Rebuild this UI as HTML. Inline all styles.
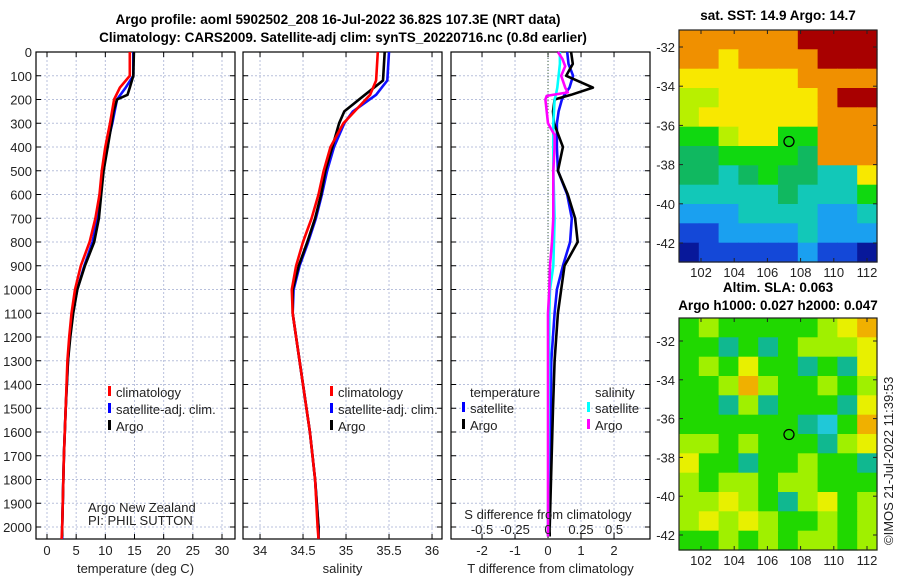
<!DOCTYPE html>
<html><head><meta charset="utf-8">
<style>
body{margin:0;background:#fff;}
svg{display:block;font-family:"Liberation Sans","DejaVu Sans",sans-serif;}
.t{font-size:13px;fill:#222;}
.b{font-weight:bold;font-size:13.5px;fill:#000;}
.g{stroke:#b8c0dc;stroke-width:1;stroke-dasharray:2,2;}
</style></head>
<body>
<svg id="s" width="900" height="580">
<text class="b" x="338" y="24" text-anchor="middle">Argo profile: aoml 5902502_208 16-Jul-2022 36.82S 107.3E (NRT data)</text>
<text class="b" x="343" y="42" text-anchor="middle">Climatology: CARS2009. Satellite-adj clim: synTS_20220716.nc (0.8d earlier)</text>
<text class="b" x="778" y="20" text-anchor="middle">sat. SST: 14.9 Argo: 14.7</text>
<text class="b" x="778" y="292" text-anchor="middle">Altim. SLA: 0.063</text>
<text class="b" x="778" y="310" text-anchor="middle">Argo h1000: 0.027 h2000: 0.047</text>
<text class="t" transform="translate(893,545) rotate(-90)">©IMOS 21-Jul-2022 11:39:53</text>
<g id="plots"></g>
</svg>
<script>
// ---- profile data ----
const tDepth=[0,100,150,200,300,400,500,600,700,800,900,1000,1100,1200,1300,1500,1700,2000,2050];
const tClim=[14.2,14.2,12.5,11.5,10.8,10.0,9.4,9.0,8.3,7.3,5.8,4.8,4.2,3.8,3.5,3.2,2.9,2.6,2.5];
const tSat=[14.8,14.8,13.5,12.0,11.2,10.2,9.6,9.2,8.6,7.8,6.4,5.2,4.4,3.9,3.6,3.2,2.9,2.6,2.6];
const tArgoDepth=[0,100,150,180,200,250,300,400,500,600,700,800,900,1000,1100,1200,1300,1500,1700,2000,2040];
const tArgo=[14.9,14.8,14.2,13.8,12.0,11.4,11.1,10.4,9.7,9.3,8.9,8.1,6.5,5.2,4.5,4.0,3.6,3.2,2.9,2.6,2.6];
const sDepth=[0,120,180,250,300,400,500,600,700,800,900,1000,1100,1200,1400,1600,1800,2000,2050];
const sClim=[35.37,35.35,35.28,35.10,34.97,34.82,34.74,34.68,34.60,34.50,34.42,34.37,34.38,34.42,34.50,34.58,34.64,34.67,34.68];
const sSat=[35.50,35.48,35.35,35.08,34.98,34.86,34.78,34.72,34.65,34.56,34.46,34.39,34.38,34.42,34.50,34.58,34.64,34.68,34.68];
const sArgo=[35.45,35.43,35.22,34.98,34.92,34.84,34.76,34.71,34.64,34.55,34.45,34.38,34.38,34.42,34.50,34.58,34.64,34.68,34.68];
const dDepth=[0,50,100,150,180,200,250,300,400,500,600,700,800,900,1000,1100,1300,1500,2000,2040];
const dTsat=[0.58,0.62,0.76,0.65,0.5,0.42,0.32,0.27,0.27,0.30,0.58,0.72,0.67,0.45,0.27,0.2,0.1,0.08,0.05,0.05];
const dTargo=[0.70,0.75,0.55,1.36,0.70,0.20,0.15,0.18,0.45,0.30,0.60,0.82,0.90,0.50,0.40,0.30,0.2,0.15,0.05,0.05];
const dSsat=[0.09,0.09,0.08,0.07,0.06,0.05,0.045,0.04,0.04,0.04,0.045,0.05,0.045,0.04,0.015,0.01,0.008,0.005,0.0,0.0];
const dSargoDepth=[0,30,60,100,150,170,185,200,300,350,400,500,600,700,800,900,1000,1100,1500,2040];
const dSargo=[0.075,0.11,0.13,0.10,0.13,0.15,-0.01,-0.02,0.0,0.05,0.05,0.04,0.04,0.04,0.03,0.015,0.01,0.0,0.0,0.0];
const depthTicks=[0,100,200,300,400,500,600,700,800,900,1000,1100,1200,1300,1400,1500,1600,1700,1800,1900,2000];
const tTicks=[0,5,10,15,20,25,30];
const sTicks=[34,34.5,35,35.5,36];
const dTicks=[-2,-1,0,1,2];
const dsTickLabels=["-0.5","-0.25","0","0.25","0.5"];
const dsTickVals=[-0.5,-0.25,0,0.25,0.5];
// ---- map data (colour index 0..9) ----
const sstGrid=[
[8,8,8,8,8,8,9,9,9,9],[8,8,7,8,8,8,8,9,9,9],[7,7,7,7,7,7,8,8,8,8],[6,6,7,7,7,7,7,8,9,9],
[6,7,7,7,7,7,7,8,8,8],[5,5,6,7,7,5,5,8,8,8],[4,4,5,5,5,5,4,8,8,8],[4,4,3,4,5,4,4,3,3,7],
[3,3,3,3,3,4,3,3,3,5],[2,2,2,3,3,3,3,2,2,3],[1,1,2,2,2,2,3,2,2,2],[0,1,1,1,1,1,2,1,1,0]];
const slaGrid=[
[5,6,5,5,5,5,5,6,7,8],[5,5,4,5,4,5,6,6,6,7],[5,6,5,7,5,5,4,5,4,7],[5,5,6,8,6,5,5,6,5,6],
[5,5,4,6,4,5,5,5,4,7],[5,5,5,5,5,5,4,3,5,8],[6,6,5,6,5,5,5,4,6,7],[7,5,5,4,5,5,6,5,5,4],
[6,5,6,6,5,6,6,5,5,5],[6,6,7,6,5,4,6,7,5,6],[6,7,6,7,6,5,5,6,5,6],[5,5,6,5,6,5,6,6,5,6]];
const latTicks=[-32,-34,-36,-38,-40,-42];
const lonTicks=[102,104,106,108,110,112];
const argoLon=107.3, argoLat=-36.82;

const NS="http://www.w3.org/2000/svg";
const G=document.getElementById('plots');
function mk(tag,attrs,parent){const e=document.createElementNS(NS,tag);for(const k in attrs)e.setAttribute(k,attrs[k]);(parent||G).appendChild(e);return e;}
function txt(x,y,s,anchor,parent,size){const e=mk('text',{x:x,y:y,'text-anchor':anchor||'start',class:'t'},parent);if(size)e.setAttribute('font-size',size);e.textContent=s;return e;}
const yTop=52, yPer=0.2375, yBot=539;
const yS=d=>yTop+d*yPer;
function panel(name,x0,x1,vmin,vmax,ticks,labels,xlabel,yLabels){
  const g=mk('g',{});
  
  
  const xs=v=>x0+(v-vmin)/(vmax-vmin)*(x1-x0);
  ticks.forEach(v=>{mk('line',{x1:xs(v),x2:xs(v),y1:yTop,y2:yBot,class:'g'},g);});
  depthTicks.forEach(d=>{mk('line',{x1:x0,x2:x1,y1:yS(d),y2:yS(d),class:'g'},g);
    mk('line',{x1:x0,x2:x0+5,y1:yS(d),y2:yS(d),stroke:'#000'},g);
    mk('line',{x1:x1-5,x2:x1,y1:yS(d),y2:yS(d),stroke:'#000'},g);
    if(yLabels){const l=txt(x0-4,yS(d)+5,String(d),'end',g);}});
  ticks.forEach((v,i)=>{mk('line',{x1:xs(v),x2:xs(v),y1:yBot,y2:yBot-5,stroke:'#000'},g);mk('line',{x1:xs(v),x2:xs(v),y1:yTop,y2:yTop+5,stroke:'#000'},g);
    const l=txt(xs(v),yBot+16,labels[i],'middle',g);});
  mk('rect',{x:x0,y:yTop,width:x1-x0,height:yBot-yTop,fill:'none',stroke:'#000','stroke-width':1.2},g);
  const xl=txt((x0+x1)/2,yBot+34,xlabel,'middle',g);
  return {g,xs};
}
function line(p,depths,vals,color,name,scale){
  const pts=depths.map((d,i)=>p.xs(vals[i]*(scale||1)).toFixed(1)+','+yS(d).toFixed(1)).join(' ');
  const e=mk('polyline',{points:pts,fill:'none',stroke:color,'stroke-width':2.6,'stroke-linejoin':'round'},p.g);
  
  
}
function legend(g,x,y,items){items.forEach((it,i)=>{mk('rect',{x:x,y:y+i*17-11,width:3,height:10,fill:it[1]},g);const t=txt(x+8,y+i*17,it[0],'start',g);});}

const P1=panel('temperature-panel',36,235,-1.886,32.23,tTicks,tTicks.map(String),'temperature (deg C)',true);
line(P1,tDepth,tSat,'#1010ff','temp-satellite-line');
line(P1,tArgoDepth,tArgo,'#000','temp-argo-line');
line(P1,tDepth,tClim,'#ff0000','temp-climatology-line');
legend(P1.g,108,397,[['climatology','#f00'],['satellite-adj. clim.','#00f'],['Argo','#000']]);
let a=txt(88,512,'Argo New Zealand','start',P1.g,11);
a=txt(88,525,'PI: PHIL SUTTON','start',P1.g,11);

const P2=panel('salinity-panel',243,442,33.802,36.116,sTicks,sTicks.map(String),'salinity',false);
line(P2,sDepth,sSat,'#1010ff','sal-satellite-line');
line(P2,sDepth,sArgo,'#000','sal-argo-line');
line(P2,sDepth,sClim,'#ff0000','sal-climatology-line');
legend(P2.g,330,397,[['climatology','#f00'],['satellite-adj. clim.','#00f'],['Argo','#000']]);

const P3=panel('difference-panel',451,650,-2.94,3.09,dTicks,dTicks.map(String),'T difference from climatology',false);
mk('line',{x1:P3.xs(0),x2:P3.xs(0),y1:yTop,y2:yBot,stroke:'#464',"stroke-dasharray":'1,2'},P3.g);
line(P3,dDepth,dTsat,'#1010ff','tdiff-satellite-line');
line(P3,dDepth,dTargo,'#000','tdiff-argo-line');
line(P3,dDepth,dSsat,'#00ffff','sdiff-satellite-line',4);
line(P3,dSargoDepth,dSargo,'#ff00ff','sdiff-argo-line',4);
a=txt(470,397,'temperature','start',P3.g);
a=txt(595,397,'salinity','start',P3.g);
legend(P3.g,462,413,[['satellite','#00f'],['Argo','#000']]);
legend(P3.g,587,413,[['satellite','#0ff'],['Argo','#f0f']]);
a=txt(548,519,'S difference from climatology','middle',P3.g);
dsTickVals.forEach((v,i)=>{const l=txt(P3.xs(v*4),534,dsTickLabels[i],'middle',P3.g);});

// ---- maps ----
const sstPal=['#08189a','#1448d8','#1aa0f0','#12c8b8','#10b860','#10d810','#b8f000','#f8e800','#f09000','#a80000'];
const slaPal=['#08189a','#1448d8','#18a8f0','#20c8d8','#10b890','#20d800','#a0f000','#e8f000','#f0b000','#e07000'];
function map(name,x0,y0,w,h,grid,pal,latTop,latPer,lon0,lonPer){
  const g=mk('g',{});
  
  
  const rows=grid.length, cols=grid[0].length, cw=w/cols, ch=h/rows;
  grid.forEach((r,i)=>r.forEach((v,j)=>{const c=mk('rect',{x:(x0+j*cw).toFixed(1),y:(y0+i*ch).toFixed(1),width:(cw+0.6).toFixed(1),height:(ch+0.6).toFixed(1),fill:pal[v]},g);
    
    }));
  const ly=lat=>latTop+(latTicks[0]-lat)*latPer;
  const lx=lon=>lon0+(lon-lonTicks[0])*lonPer;
  mk('rect',{x:x0,y:y0,width:w,height:h,fill:'none',stroke:'#222','stroke-width':1.2},g);
  latTicks.forEach(l=>{mk('line',{x1:x0,x2:x0+4,y1:ly(l),y2:ly(l),stroke:'#222'},g);mk('line',{x1:x0+w-4,x2:x0+w,y1:ly(l),y2:ly(l),stroke:'#222'},g);
    const t=txt(x0-4,ly(l)+5,String(l),'end',g);});
  lonTicks.forEach(l=>{mk('line',{x1:lx(l),x2:lx(l),y1:y0,y2:y0+4,stroke:'#222'},g);mk('line',{x1:lx(l),x2:lx(l),y1:y0+h-4,y2:y0+h,stroke:'#222'},g);
    const t=txt(lx(l),y0+h+15,String(l),'middle',g,12);});
  const m=mk('circle',{cx:lx(argoLon),cy:ly(argoLat),r:5,fill:'none',stroke:'#000','stroke-width':1.3},g);
  
  
}
map('sst-map',679,30,198,232,sstGrid,sstPal,47,19.6,701,16.6);
map('sla-map',679,318,198,232,slaGrid,slaPal,341,19.4,701,16.6);
</script>
</body></html>
